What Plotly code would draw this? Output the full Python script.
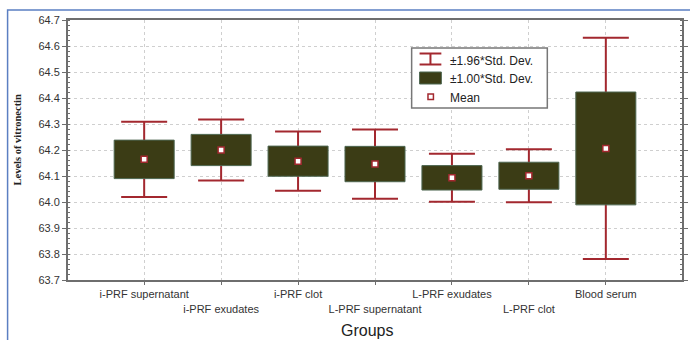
import plotly.graph_objects as go

# ---------------- data ----------------
categories = ["i-PRF supernatant", "i-PRF exudates", "i-PRF clot",
              "L-PRF supernatant", "L-PRF exudates", "L-PRF clot", "Blood serum"]
means = [64.164, 64.200, 64.157, 64.146, 64.093, 64.101, 64.206]
std_devs = [0.074, 0.060, 0.058, 0.068, 0.047, 0.052, 0.217]
y_ticks = [63.7, 63.8, 63.9, 64.0, 64.1, 64.2, 64.3, 64.4, 64.5, 64.6, 64.7]
legend_labels = ["±1.96*Std. Dev.", "±1.00*Std. Dev.", "Mean"]
y_title = "Levels of vitronectin"
x_title = "Groups"

# derived quantities (chart semantics: mean ± 1.00 SD box, mean ± 1.96 SD whiskers)
box_low = [m - s for m, s in zip(means, std_devs)]
box_height = [2 * s for s in std_devs]
whisker = [1.96 * s for s in std_devs]
tick_text = [("<br>" + c) if i % 2 else c for i, c in enumerate(categories)]

# ---------------- style ----------------
RED = "#a3282f"
OLIVE = "#3b3c15"
EDGE = "#4d6650"
AXIS = "#6e6e6e"
GRID = "#cfcfcf"
SANS = "Liberation Sans, Arial, sans-serif"
SERIF = "Liberation Serif, Times New Roman, serif"

W, H = 690, 340
L, R, T, B = 68, 2, 20, 60
PW, PH = W - L - R, H - T - B


def px(x):
    return (x - L) / PW


def py(y):
    return (H - B - y) / PH


fig = go.Figure()

# whiskers (base subplot -> drawn underneath the boxes)
fig.add_trace(go.Scatter(
    x=categories, y=means, mode="markers",
    marker=dict(size=1, color="rgba(0,0,0,0)"),
    error_y=dict(type="data", array=whisker, symmetric=True,
                 width=23, thickness=2, color=RED),
    xaxis="x", yaxis="y", hoverinfo="skip", showlegend=False))

# boxes (overlay subplot -> drawn above whiskers)
fig.add_trace(go.Bar(
    x=categories, y=box_height, base=box_low, width=0.78,
    marker=dict(color=OLIVE, line=dict(color=EDGE, width=1)),
    xaxis="x2", yaxis="y2", showlegend=False))

# means
fig.add_trace(go.Scatter(
    x=categories, y=means, mode="markers",
    marker=dict(symbol="square", size=6, color="white",
                line=dict(color=RED, width=1.5)),
    xaxis="x2", yaxis="y2", showlegend=False))

xrange = [-0.99, 6.99]
yrange = [y_ticks[0], y_ticks[-1]]

fig.update_layout(
    width=W, height=H, autosize=False,
    margin=dict(l=L, r=R, t=T, b=B, pad=0),
    paper_bgcolor="white", plot_bgcolor="white",
    showlegend=False,
    xaxis=dict(
        type="category", range=xrange, tickvals=categories, ticktext=tick_text,
        tickangle=0, showgrid=True, gridcolor=GRID, griddash="dot", gridwidth=1,
        ticks="outside", ticklen=3, tickcolor=AXIS,
        showline=True, linecolor=AXIS, linewidth=2, mirror=True,
        tickfont=dict(family=SANS, size=11, color="#333333"),
        zeroline=False, fixedrange=True),
    yaxis=dict(
        range=yrange, tickvals=y_ticks, tickformat=".1f",
        showgrid=True, gridcolor=GRID, griddash="dot", gridwidth=1,
        ticks="outside", ticklen=4, tickcolor=AXIS,
        minor=dict(tickmode="linear", tick0=63.7, dtick=0.02, ticks="inside",
                   ticklen=2, tickcolor=AXIS, showgrid=False),
        showline=True, linecolor=AXIS, linewidth=2, mirror="ticks",
        tickfont=dict(family=SANS, size=11, color="#333333"),
        zeroline=False, fixedrange=True),
    xaxis2=dict(type="category", range=xrange, overlaying="x", visible=False,
                showgrid=False, fixedrange=True),
    yaxis2=dict(range=yrange, overlaying="y", visible=False,
                showgrid=False, zeroline=False, fixedrange=True),
)

shapes = []
# outer blue frame (left + top visible)
shapes.append(dict(type="rect", xref="paper", yref="paper",
                   x0=px(7), x1=px(720), y0=py(360), y1=py(10),
                   line=dict(color="#5b7fc2", width=1.5), layer="below"))

# legend box
shapes.append(dict(type="rect", xref="paper", yref="paper",
                   x0=px(415), x1=px(552), y0=py(108), y1=py(48),
                   line=dict(color="#777777", width=1.5), fillcolor="white", layer="above"))
# I-beam icon
for (x0, y0, x1, y1) in [(423, 53.5, 445, 53.5), (423, 64.5, 445, 64.5), (434, 53.5, 434, 64.5)]:
    shapes.append(dict(type="line", xref="paper", yref="paper",
                       x0=px(x0), x1=px(x1), y0=py(y0), y1=py(y1),
                       line=dict(color=RED, width=2), layer="above"))
# box icon
shapes.append(dict(type="rect", xref="paper", yref="paper",
                   x0=px(423), x1=px(445), y0=py(84), y1=py(72),
                   line=dict(color=EDGE, width=1), fillcolor=OLIVE, layer="above"))
# mean icon
shapes.append(dict(type="rect", xref="paper", yref="paper",
                   x0=px(431.5), x1=px(437), y0=py(99.5), y1=py(94),
                   line=dict(color=RED, width=1.5), fillcolor="white", layer="above"))

annotations = []
for label, yc in zip(legend_labels, [60.5, 79, 97.5]):
    annotations.append(dict(text=label, xref="paper", yref="paper",
                            x=px(452), y=py(yc), xanchor="left", yanchor="middle",
                            showarrow=False, font=dict(family=SANS, size=12, color="#222222")))

annotations.append(dict(text="<b>" + y_title + "</b>", xref="paper", yref="paper",
                        x=px(17), y=py(139), xanchor="center", yanchor="middle",
                        textangle=-90, showarrow=False,
                        font=dict(family=SERIF, size=10.5, color="#222222")))
annotations.append(dict(text=x_title, xref="paper", yref="paper",
                        x=px(370), y=py(330), xanchor="center", yanchor="middle",
                        showarrow=False,
                        font=dict(family=SANS, size=16, color="#222222")))

fig.update_layout(shapes=shapes, annotations=annotations)

fig.write_html(
    "out.html",
    config=dict(displayModeBar=False),
    post_script="document.body.style.margin='0';document.body.style.padding='0';"
                "document.body.style.overflow='hidden';",
)
